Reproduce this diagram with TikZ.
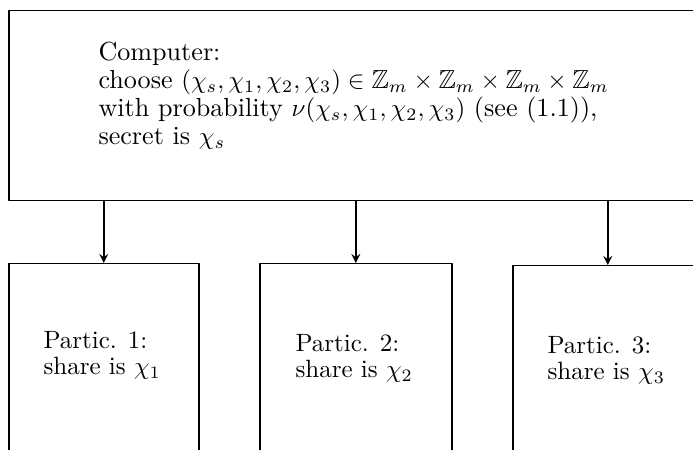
\documentclass[tikz,border=0pt]{standalone}
\usepackage{amssymb}
\usetikzlibrary{positioning}
\tikzset{
  box/.style={draw, line width=0.6pt, rectangle, anchor=north west, inner sep=0pt},
  label text/.style={anchor=base west, align=left, inner sep=0pt, font=\fontsize{10.45}{11.2}\selectfont},
  share text/.style={label text, font=\fontsize{10}{10.4}\selectfont}
}
\begin{document}
\begin{tikzpicture}[x=0.4pt, y=-0.4pt, >=stealth, line join=round]
\useasboundingbox (0,0) rectangle (693,450);
\clip (0,0) rectangle (693,450);
% boxes
\node[box, minimum width=280pt, minimum height=76pt] (computer) at (8,10) {};
\node[box, minimum width=76pt, minimum height=90pt] (p1) at (8,263) {};
\node[box, minimum width=76.8pt, minimum height=90pt] (p2) at (259,263) {};
\node[box, minimum width=76pt, minimum height=90pt] (p3) at (512,265) {};
% texts
\node[label text] (ctext) at (98,145) {Computer:\\
choose $(\chi_s,\chi_1,\chi_2,\chi_3)\in\mathbb{Z}_m\times\mathbb{Z}_m\times\mathbb{Z}_m\times\mathbb{Z}_m$\\
with probability $\nu(\chi_s,\chi_1,\chi_2,\chi_3)$ (see (1.1)),\\
secret is $\chi_s$};
\node[share text] (t1) at (43,375) {Partic. 1:\\ share is $\chi_1$};
\node[share text] (t2) at (295,378) {Partic. 2:\\ share is $\chi_2$};
\node[share text] (t3) at (547,380) {Partic. 3:\\ share is $\chi_3$};
% arrows
\foreach \p in {p1,p2,p3}
  \draw[->, line width=0.6pt] (computer.south -| \p.north) -- (\p.north);
\end{tikzpicture}
\end{document}
